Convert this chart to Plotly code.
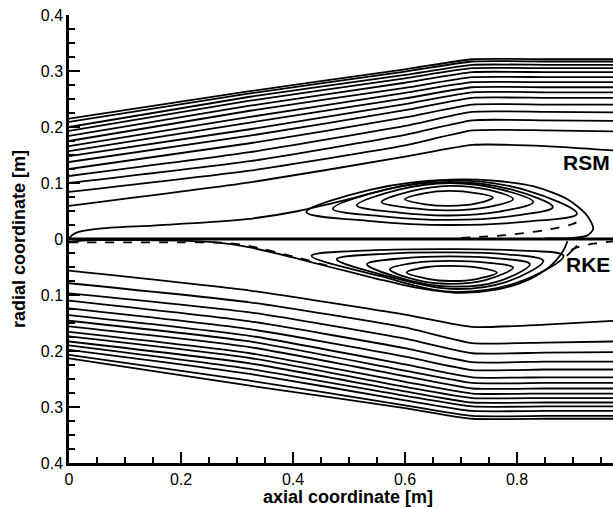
import plotly.graph_objects as go

# ---------------- data ----------------
X_KNOTS = [0.0, 0.323, 0.6, 0.72, 0.85, 0.975]

# upper half (RSM) streamlines: y at X_KNOTS
RSM_STREAMS = [
    [0.215, 0.264, 0.303, 0.321, 0.321, 0.321],
    [0.209, 0.260, 0.299, 0.317, 0.317, 0.317],
    [0.200, 0.254, 0.293, 0.311, 0.311, 0.311],
    [0.193, 0.247, 0.287, 0.305, 0.305, 0.305],
    [0.184, 0.238, 0.279, 0.298, 0.298, 0.298],
    [0.175, 0.229, 0.270, 0.289, 0.289, 0.289],
    [0.166, 0.218, 0.261, 0.280, 0.280, 0.280],
    [0.157, 0.208, 0.251, 0.271, 0.271, 0.271],
    [0.148, 0.196, 0.241, 0.262, 0.262, 0.262],
    [0.1375, 0.1845, 0.230, 0.252, 0.252, 0.252],
    [0.125, 0.171, 0.217, 0.240, 0.240, 0.240],
    [0.1125, 0.155, 0.202, 0.227, 0.227, 0.226],
    [0.100, 0.139, 0.186, 0.212, 0.212, 0.211],
    [0.084, 0.122, 0.167, 0.194, 0.194, 0.192],
    [0.059, 0.101, 0.147, 0.168, 0.166, 0.158],
]

# lower half (RKE) streamlines: y at X_KNOTS
RKE_STREAMS = [
    [-0.213, -0.262, -0.302, -0.321, -0.321, -0.321],
    [-0.207, -0.253, -0.297, -0.316, -0.316, -0.316],
    [-0.198, -0.241, -0.288, -0.307, -0.307, -0.307],
    [-0.190, -0.232, -0.280, -0.299, -0.299, -0.299],
    [-0.183, -0.222, -0.272, -0.292, -0.292, -0.292],
    [-0.174, -0.2125, -0.264, -0.284, -0.284, -0.284],
    [-0.166, -0.204, -0.255, -0.276, -0.276, -0.276],
    [-0.156, -0.193, -0.245, -0.267, -0.267, -0.267],
    [-0.146, -0.183, -0.235, -0.257, -0.257, -0.257],
    [-0.136, -0.173, -0.224, -0.247, -0.247, -0.247],
    [-0.124, -0.161, -0.210, -0.234, -0.233, -0.233],
    [-0.110, -0.147, -0.195, -0.220, -0.219, -0.219],
    [-0.097, -0.131, -0.178, -0.204, -0.203, -0.202],
    [-0.079, -0.113, -0.158, -0.186, -0.185, -0.183],
    [-0.0566, -0.092, -0.135, -0.157, -0.153, -0.146],
]

# separating streamlines around the recirculation bubbles
RSM_SEP_X = [0.0, 0.012, 0.05, 0.15, 0.25, 0.33, 0.41, 0.50, 0.59, 0.68, 0.76, 0.83, 0.89, 0.925, 0.936, 0.925, 0.90, 0.85]
RSM_SEP_Y = [0.002, 0.011, 0.018, 0.024, 0.030, 0.037, 0.050, 0.071, 0.094, 0.106, 0.104, 0.094, 0.071, 0.042, 0.018, 0.006, 0.002, 0.001]

RKE_SEP_X = [0.0, 0.04, 0.1, 0.2, 0.27, 0.323, 0.40, 0.466, 0.55, 0.62, 0.69, 0.76, 0.82, 0.86, 0.882, 0.89]
RKE_SEP_Y = [-0.005, -0.002, -0.002, -0.003, -0.007, -0.015, -0.033, -0.050, -0.071, -0.087, -0.096, -0.091, -0.073, -0.048, -0.022, -0.004]

AXIS_X = [0.0, 0.975]
AXIS_Y = [0.0, 0.0]

# recirculation eddies (closed streamlines)
RSM_EDDY_X = [
    [0.600, 0.636, 0.680, 0.726, 0.757, 0.726, 0.680, 0.636, 0.600],
    [0.558, 0.613, 0.680, 0.748, 0.793, 0.748, 0.680, 0.613, 0.558],
    [0.514, 0.589, 0.680, 0.769, 0.829, 0.769, 0.680, 0.589, 0.514],
    [0.471, 0.565, 0.680, 0.791, 0.864, 0.791, 0.680, 0.565, 0.471],
    [0.424, 0.539, 0.680, 0.817, 0.907, 0.817, 0.680, 0.539, 0.424],
]
RSM_EDDY_Y = [
    [0.071, 0.082, 0.086, 0.082, 0.074, 0.063, 0.059, 0.062, 0.071],
    [0.066, 0.086, 0.095, 0.088, 0.071, 0.057, 0.051, 0.055, 0.066],
    [0.060, 0.088, 0.100, 0.089, 0.066, 0.049, 0.042, 0.047, 0.060],
    [0.054, 0.088, 0.102, 0.088, 0.057, 0.041, 0.034, 0.040, 0.054],
    [0.048, 0.088, 0.105, 0.087, 0.045, 0.031, 0.025, 0.032, 0.048],
]
RKE_EDDY_X = [
    [0.603, 0.640, 0.680, 0.730, 0.764, 0.730, 0.680, 0.640, 0.603],
    [0.573, 0.620, 0.680, 0.745, 0.793, 0.745, 0.680, 0.620, 0.573],
    [0.532, 0.600, 0.680, 0.760, 0.823, 0.765, 0.680, 0.600, 0.532],
    [0.478, 0.570, 0.680, 0.775, 0.847, 0.780, 0.680, 0.575, 0.478],
    [0.433, 0.545, 0.680, 0.790, 0.883, 0.800, 0.680, 0.555, 0.433],
]
RKE_EDDY_Y = [
    [-0.060, -0.050, -0.048, -0.051, -0.060, -0.071, -0.075, -0.071, -0.060],
    [-0.054, -0.042, -0.039, -0.042, -0.051, -0.073, -0.080, -0.073, -0.054],
    [-0.045, -0.034, -0.031, -0.034, -0.045, -0.076, -0.085, -0.072, -0.045],
    [-0.036, -0.026, -0.024, -0.027, -0.039, -0.077, -0.089, -0.068, -0.036],
    [-0.030, -0.020, -0.018, -0.020, -0.030, -0.078, -0.094, -0.066, -0.030],
]

# dashed (second solution) streamlines that differ visibly
DASH_LINES = [
    ([0.0, 0.1, 0.2, 0.28, 0.32, 0.40, 0.466],
     [-0.006, -0.006, -0.006, -0.007, -0.012, -0.031, -0.049]),
    ([0.70, 0.78, 0.85, 0.90, 0.918],
     [0.002, 0.007, 0.016, 0.027, 0.036]),
    ([0.975, 0.94, 0.91, 0.885],
     [-0.004, -0.008, -0.014, -0.025]),
]
SOLID_EXTRA = [
    ([0.907, 0.897, 0.889], [-0.012, -0.022, -0.030]),
]

X_TICKS = [0.0, 0.2, 0.4, 0.6, 0.8]
X_TICKTEXT = ["0", "0.2", "0.4", "0.6", "0.8"]
Y_TICKS = [-0.4, -0.3, -0.2, -0.1, 0.0, 0.1, 0.2, 0.3, 0.4]
Y_TICKTEXT = ["0.4", "0.3", "0.2", "0.1", "0", "0.1", "0.2", "0.3", "0.4"]

# ---------------- figure ----------------
FONT = "Liberation Sans, Arial, Helvetica, sans-serif"
LW = 1.8
fig = go.Figure()

def add_line(x, y, dash="solid", shape="spline", width=LW, smoothing=0.6):
    line = dict(color="black", width=width, dash=dash, shape=shape)
    if shape == "spline":
        line["smoothing"] = smoothing
    fig.add_trace(go.Scatter(x=x, y=y, mode="lines", line=line,
                             hoverinfo="skip", showlegend=False))

for ys in RSM_STREAMS + RKE_STREAMS:
    add_line(X_KNOTS, ys, smoothing=0.5)

add_line(AXIS_X, AXIS_Y, shape="linear", width=3)
add_line(RSM_SEP_X, RSM_SEP_Y, smoothing=0.8)
add_line(RKE_SEP_X, RKE_SEP_Y, smoothing=0.8)

for xs, ys in zip(RSM_EDDY_X, RSM_EDDY_Y):
    add_line(xs, ys, smoothing=1.0)
for xs, ys in zip(RKE_EDDY_X, RKE_EDDY_Y):
    add_line(xs, ys, smoothing=1.0)

for xs, ys in DASH_LINES:
    add_line(xs, ys, dash="dash", smoothing=0.8)
for xs, ys in SOLID_EXTRA:
    add_line(xs, ys, smoothing=0.8)

fig.add_annotation(x=0.969, y=0.1375, xref="x", yref="y", text="<b>RSM</b>",
                   showarrow=False, xanchor="right", yanchor="middle",
                   font=dict(family=FONT, size=21, color="black"))
fig.add_annotation(x=0.969, y=-0.045, xref="x", yref="y", text="<b>RKE</b>",
                   showarrow=False, xanchor="right", yanchor="middle",
                   font=dict(family=FONT, size=21, color="black"))

fig.add_annotation(x=0.513, y=-0.077, xref="paper", yref="paper",
                   text="<b>axial coordinate [m]</b>", showarrow=False,
                   xanchor="center", yanchor="middle",
                   font=dict(family=FONT, size=18, color="black"))
fig.add_annotation(x=-0.092, y=0.5, xref="paper", yref="paper",
                   text="<b>radial coordinate [m]</b>", showarrow=False,
                   textangle=-90, xanchor="center", yanchor="middle",
                   font=dict(family=FONT, size=18, color="black"))

axis_common = dict(showgrid=False, zeroline=False, showline=True,
                   linecolor="black", linewidth=2.5, ticks="inside",
                   tickcolor="black", tickwidth=2, mirror=False,
                   tickfont=dict(family=FONT, size=16, color="black"))

fig.update_xaxes(range=[0, 0.9714], tickmode="array", tickvals=X_TICKS,
                 ticktext=X_TICKTEXT, ticklen=11, ticklabelstandoff=0,
                 minor=dict(tick0=0, dtick=0.05, ticks="inside", ticklen=6,
                            tickwidth=1.5, tickcolor="black", showgrid=False),
                 **axis_common)
fig.update_yaxes(range=[-0.4, 0.4], tickmode="array", tickvals=Y_TICKS,
                 ticktext=Y_TICKTEXT, ticklen=11,
                 minor=dict(tick0=0, dtick=0.025, ticks="inside", ticklen=6,
                            tickwidth=1.5, tickcolor="black", showgrid=False),
                 **axis_common)

fig.update_layout(width=613, height=508,
                  margin=dict(l=69, r=0, t=15, b=45),
                  paper_bgcolor="white", plot_bgcolor="white",
                  showlegend=False)

fig.write_html("out.html")
